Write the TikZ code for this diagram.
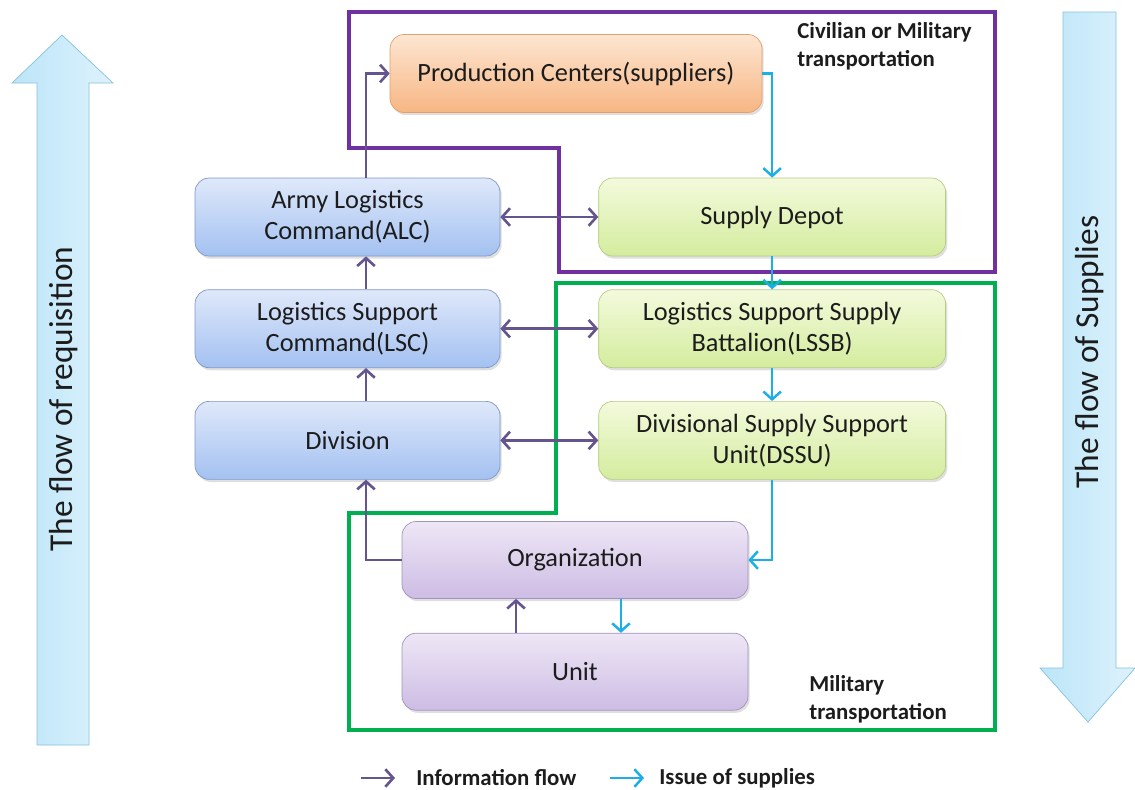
\documentclass[tikz,border=0pt]{standalone}
\usepackage{fontspec}
\setmainfont{Carlito}
\usepackage{tikz}
\usetikzlibrary{positioning}
\usetikzlibrary{arrows.meta}
\usetikzlibrary{shadows}
\definecolor{infopurple}{HTML}{65558E}
\definecolor{supplycyan}{HTML}{1CAEE6}
\definecolor{zonepurple}{HTML}{7030A0}
\definecolor{zonegreen}{HTML}{00B050}
\definecolor{textgray}{HTML}{1C1C1C}
\definecolor{bluetop}{HTML}{DFE8FA}
\definecolor{bluebot}{HTML}{A3C1F1}
\definecolor{blueline}{HTML}{7F98C6}
\definecolor{greentop}{HTML}{F3FADC}
\definecolor{greenbot}{HTML}{D4EC9E}
\definecolor{greenline}{HTML}{B6CD86}
\definecolor{orangetop}{HTML}{FDE6D2}
\definecolor{orangebot}{HTML}{F7B683}
\definecolor{orangeline}{HTML}{E3A06C}
\definecolor{violettop}{HTML}{EEE7F6}
\definecolor{violetbot}{HTML}{CDBCE4}
\definecolor{violetline}{HTML}{A292BC}
\definecolor{skyleft}{HTML}{BCE5F8}
\definecolor{skyright}{HTML}{DDF2FC}
\definecolor{skyline}{HTML}{86C3DE}
\tikzset{node distance=0.66cm, % gap between the stacked boxes
         box/.style={ % common look of all unit boxes
           rounded corners=8pt,
           align=center,
           text=textgray,
           font=\fontsize{15}{17.5}\selectfont,
           minimum height=1.56cm,
           drop shadow={shadow xshift=1pt, shadow yshift=-1.5pt, opacity=0.25}},
         bluebox/.style={box, draw=blueline, top color=bluetop, bottom color=bluebot, minimum width=6.1cm},
         greenbox/.style={box, draw=greenline, top color=greentop, bottom color=greenbot, minimum width=6.94cm},
         orangebox/.style={box, draw=orangeline, top color=orangetop, bottom color=orangebot, minimum width=7.44cm},
         violetbox/.style={box, draw=violetline, top color=violettop, bottom color=violetbot, minimum width=6.92cm, minimum height=1.54cm},
         info/.style={-{Straight Barb[length=4.5pt,width=10pt]}, draw=infopurple, line width=1.5pt},
         infoboth/.style={info, {Straight Barb[length=4.5pt,width=10pt]}-{Straight Barb[length=4.5pt,width=10pt]}},
         supply/.style={-{Straight Barb[length=4.5pt,width=10pt]}, draw=supplycyan, line width=1.4pt},
         zone/.style={line width=2.3pt, line join=miter},
         bigarrow/.style={draw=skyline, left color=skyleft, right color=skyright},
         note/.style={font=\bfseries\fontsize{13}{16}\selectfont, align=left, text=textgray, inner sep=0pt},
         sidetext/.style={font=\fontsize{19}{22}\selectfont, text=textgray, rotate=90}}

\begin{document}
\begin{tikzpicture}[x=0.02cm, y=-0.02cm]
      \useasboundingbox (0,0) rectangle (1135,789);

      % flow arrows at both sides
      \draw[bigarrow] (37,745) -- (37,83) -- (12,83) -- (62,35) -- (113,83) -- (89,83) -- (89,745) -- cycle;
      \node[sidetext] (req) at (64,399) {The flow of requisition};
      \draw[bigarrow] (1063,12) -- (1116,12) -- (1116,668) -- (1135,668) -- (1088,722) -- (1040,668) -- (1063,668) -- cycle;
      \node[sidetext] (sup) at (1090,352) {The flow of Supplies};

      % transportation zones
      \draw[zone, zonepurple] (349,12) -- (995,12) -- (995,272) -- (559,272) -- (559,148) -- (349,148) -- cycle;
      \draw[zone, zonegreen] (556,283) -- (995,283) -- (995,730) -- (349,730) -- (349,513) -- (556,513) -- cycle;
      \node[note, anchor=west] (civil) at (797,46) {Civilian or Military\\transportation};
      \node[note, anchor=west] (milit) at (809,699) {Military\\transportation};

      \node[orangebox] (pc) at (576,73.5) {Production Centers(suppliers)};
      \node[bluebox] (alc) at (347.5,217) {Army Logistics\\Command(ALC)};
      \node[bluebox, below=of alc] (lsc) {Logistics Support\\Command(LSC)};
      \node[bluebox, below=of lsc] (div) {Division};
      \node[greenbox, right=1.96cm of alc] (sd) {Supply Depot};
      \node[greenbox, right=1.96cm of lsc] (lssb) {Logistics Support Supply\\Battalion(LSSB)};
      \node[greenbox, right=1.96cm of div] (dssu) {Divisional Supply Support\\Unit(DSSU)};
      \node[violetbox] (org) at (575,560) {Organization};
      \node[violetbox, below=0.68cm of org] (unit) {Unit};

      \draw[info] ([xshift=0.37cm]alc.north) |- (pc.west);
      \draw[supply] (pc.east) -| (sd.north);
      \draw[infoboth] (alc) -- (sd);

      \draw[info] ([xshift=0.37cm]lsc.north) -- ([xshift=0.37cm]alc.south);
      \draw[supply] (sd) -- (lssb);
      \draw[infoboth] (lsc) -- (lssb);

      \draw[info] ([xshift=0.37cm]div.north) -- ([xshift=0.37cm]lsc.south);
      \draw[supply] (lssb) -- (dssu);
      \draw[infoboth] (div) -- (dssu);

      \draw[info] (org.west) -| ([xshift=0.37cm]div.south);
      \draw[supply] (dssu.south) |- (org.east);
      \draw[info] ([xshift=-1.18cm]unit.north) -- ([xshift=-1.18cm]org.south);
      \draw[supply] ([xshift=0.92cm]org.south) -- ([xshift=0.92cm]unit.north);

      % legend
      \node[note, anchor=west] (infokey) at (416,778) {Information flow};
      \node[note, anchor=west] (supkey) at (659,778) {Issue of supplies};
      \draw[info] ([xshift=-1.1cm]infokey.west) -- ([xshift=-0.42cm]infokey.west);
      \draw[supply] ([xshift=-0.98cm]supkey.west) -- ([xshift=-0.3cm]supkey.west);
    \end{tikzpicture}
\end{document}
